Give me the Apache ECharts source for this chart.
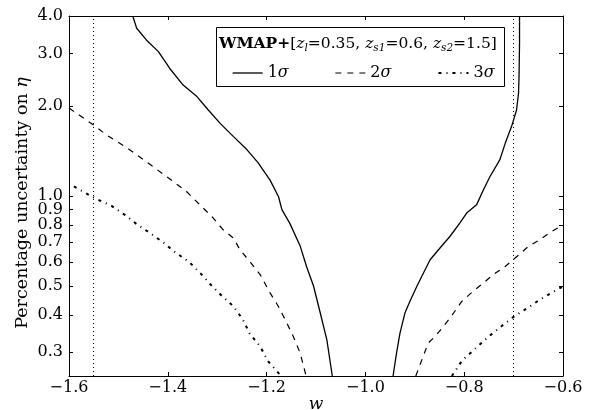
<!DOCTYPE html>
<html>
<head>
<meta charset="utf-8">
<script src="https://cdn.jsdelivr.net/npm/echarts@6/dist/echarts.min.js"></script>
<style>
html,body{margin:0;padding:0;background:#fff;}
#chart{width:589px;height:410px;}
</style>
</head>
<body>
<div id="chart"></div>
<script>
// values: w and percentage uncertainty on eta
var sig1LeftW = [-1.471,-1.463,-1.443,-1.419,-1.396,-1.369,-1.341,-1.318,-1.294,-1.267,-1.240,-1.217,-1.193,-1.176,-1.169,-1.153,-1.132,-1.119,-1.105,-1.092,-1.078,-1.067];
var sig1LeftEta = [4.0,3.64,3.32,3.04,2.67,2.35,2.15,1.94,1.75,1.58,1.43,1.29,1.13,0.996,0.90,0.81,0.68,0.58,0.50,0.41,0.33,0.25];
var sig1RightW = [-0.944,-0.937,-0.930,-0.920,-0.910,-0.896,-0.886,-0.869,-0.849,-0.829,-0.809,-0.795,-0.775,-0.761,-0.748,-0.728,-0.717,-0.704,-0.694,-0.690,-0.689,-0.688,-0.688];
var sig1RightEta = [0.25,0.298,0.348,0.406,0.444,0.498,0.538,0.612,0.67,0.732,0.812,0.877,0.934,1.05,1.16,1.32,1.50,1.71,1.94,2.21,2.51,3.24,4.0];

var sig2LeftW = [-1.6,-1.551,-1.524,-1.483,-1.443,-1.402,-1.362,-1.335,-1.308,-1.288,-1.267,-1.254,-1.234,-1.213,-1.193,-1.176,-1.159,-1.146,-1.132,-1.120];
var sig2LeftEta = [1.97,1.73,1.60,1.45,1.30,1.16,1.035,0.934,0.844,0.771,0.723,0.661,0.604,0.546,0.474,0.427,0.376,0.339,0.298,0.25];
var sig2RightW = [-0.898,-0.883,-0.873,-0.859,-0.842,-0.829,-0.805,-0.782,-0.761,-0.741,-0.717,-0.697,-0.670,-0.647,-0.623,-0.600];
var sig2RightEta = [0.25,0.291,0.322,0.339,0.366,0.39,0.444,0.48,0.512,0.546,0.581,0.62,0.678,0.714,0.761,0.80];

var sig3LeftW = [-1.590,-1.574,-1.544,-1.514,-1.487,-1.463,-1.436,-1.409,-1.385,-1.358,-1.335,-1.313,-1.291,-1.267,-1.248,-1.234,-1.213,-1.197,-1.176,-1.173];
var sig3LeftEta = [1.076,1.04,0.976,0.927,0.865,0.805,0.752,0.699,0.648,0.604,0.554,0.505,0.464,0.427,0.386,0.346,0.314,0.28,0.256,0.25];
var sig3RightW = [-0.825,-0.804,-0.780,-0.754,-0.729,-0.703,-0.675,-0.647,-0.618,-0.600];
var sig3RightEta = [0.25,0.282,0.306,0.335,0.362,0.391,0.419,0.45,0.48,0.498];

var priorW = [-1.55, -0.7];
var yTickLabels = [0.3,0.4,0.5,0.6,0.7,0.8,0.9,1.0,2.0,3.0,4.0];
var legendNames = ['1σ','2σ','3σ'];

var font = 'DejaVu Serif';
var yTickVals = yTickLabels.map(function(v){ return Math.log10(v); });

function pts(ws, etas) {
  return ws.map(function(w, i){ return [w, Math.log10(etas[i])]; });
}

var style1 = {type:'solid', width:1.3, color:'#000'};
var style2 = {type:[6,6], width:1.2, color:'#000'};
var style3 = {type:[3,5,1,5], width:2, color:'#000'};
var legendStyles = [style1, style2, style3];

function curve(name, data, ls) {
  return {
    name: name, type: 'line', data: data, symbol: 'none', showSymbol: false,
    lineStyle: ls, itemStyle: {color: '#000'}, color: '#000', silent: true
  };
}

var axisLine = {show:true, onZero:false, lineStyle:{color:'#000', width:1}};
function xAx(pos, labels) {
  return {
    type:'value', min:-1.6, max:-0.6, interval:0.2, position:pos,
    axisLine: axisLine,
    axisTick: {show:true, inside:true, length:4, lineStyle:{color:'#000'}},
    axisLabel: {show:labels, margin:4, color:'#000', fontFamily:font, fontSize:16,
      formatter: function(v){ return v.toFixed(1).replace('-', '\u2212'); }},
    splitLine: {show:false}
  };
}
function yAx(pos, labels) {
  return {
    type:'value', min:Math.log10(0.25), max:Math.log10(4), position:pos,
    axisLine: axisLine,
    axisTick: {show:true, inside:true, length:4, lineStyle:{color:'#000'}, customValues:yTickVals},
    axisLabel: {show:labels, margin:6, color:'#000', fontFamily:font, fontSize:16, customValues:yTickVals,
      formatter: function(v){ return Math.pow(10, v).toFixed(1); }},
    splitLine: {show:false}
  };
}

var xBottom = xAx('bottom', true);
xBottom.name = 'w';
xBottom.nameLocation = 'middle';
xBottom.nameGap = 20;
xBottom.nameMoveOverlap = false;
xBottom.nameTextStyle = {fontFamily:font, fontSize:17, fontStyle:'italic', color:'#000'};

var yLeft = yAx('left', true);
yLeft.name = '{a|Percentage uncertainty on }{b|η}';
yLeft.nameLocation = 'middle';
yLeft.nameGap = 38;
yLeft.nameMoveOverlap = false;
yLeft.nameTextStyle = {fontFamily:font, fontSize:17.5, color:'#000', padding:[0,14,0,0],
  rich:{a:{fontFamily:font, fontSize:17.5, color:'#000'}, b:{fontFamily:font, fontSize:17.5, fontStyle:'italic', color:'#000'}}};

var myChart = echarts.init(document.getElementById('chart'));
var option = {
  animation: false,
  backgroundColor: '#fff',
  grid: {left:69, right:26, top:16, bottom:34, outerBoundsMode:'none', containLabel:false},
  xAxis: [xBottom, xAx('top', false)],
  yAxis: [yLeft, yAx('right', false)],
  legend: {
    data: legendNames.map(function(n, i){
      return {name: n, lineStyle: legendStyles[i], itemStyle: {opacity: 0}};
    }),
    left: 232, top: 65, padding: 0,
    itemWidth: 30, itemHeight: 14, itemGap: 46, z: 6,
    itemStyle: {opacity: 0},
    formatter: function(name){ return '{n|' + name.charAt(0) + '}{g|σ}'; },
    textStyle: {color:'#000', fontFamily:font, fontSize:16,
      rich: {n:{fontFamily:font, fontSize:16, color:'#000'}, g:{fontFamily:font, fontSize:16, fontStyle:'italic', color:'#000'}}}
  },
  graphic: [
    {type:'rect', z:5, shape:{x:216.5, y:27.5, width:288, height:59},
     style:{fill:'#fff', stroke:'#000', lineWidth:1}},
    {type:'text', z:7, x:219, y:44,
     style:{
       text:'{b|WMAP+}{t|[}{i|z}{s|l}{t|=0.35, }{i|z}{s|s1}{t|=0.6, }{i|z}{s|s2}{t|=1.5]}',
       align:'left', verticalAlign:'middle', fill:'#000',
       rich:{
         b:{fontFamily:font, fontSize:15.5, fontWeight:'bold', lineHeight:20, fill:'#000'},
         t:{fontFamily:font, fontSize:15.5, lineHeight:20, fill:'#000'},
         i:{fontFamily:font, fontSize:15.5, fontStyle:'italic', lineHeight:20, fill:'#000'},
         s:{fontFamily:font, fontSize:10.5, fontStyle:'italic', lineHeight:12, verticalAlign:'bottom', fill:'#000'}
       }
     }}
  ],
  series: [
    curve('1σ', pts(sig1LeftW, sig1LeftEta), style1),
    curve('1σ', pts(sig1RightW, sig1RightEta), style1),
    curve('2σ', pts(sig2LeftW, sig2LeftEta), style2),
    curve('2σ', pts(sig2RightW, sig2RightEta), style2),
    curve('3σ', pts(sig3LeftW, sig3LeftEta), style3),
    curve('3σ', pts(sig3RightW, sig3RightEta), style3),
    {
      name: 'prior', type: 'line', data: [], silent: true,
      markLine: {
        silent: true, symbol: 'none', label: {show:false},
        lineStyle: {type:[1,3], width:1, color:'#000'},
        data: priorW.map(function(w){ return {xAxis: w}; })
      }
    }
  ]
};
myChart.setOption(option);
</script>
</body>
</html>
